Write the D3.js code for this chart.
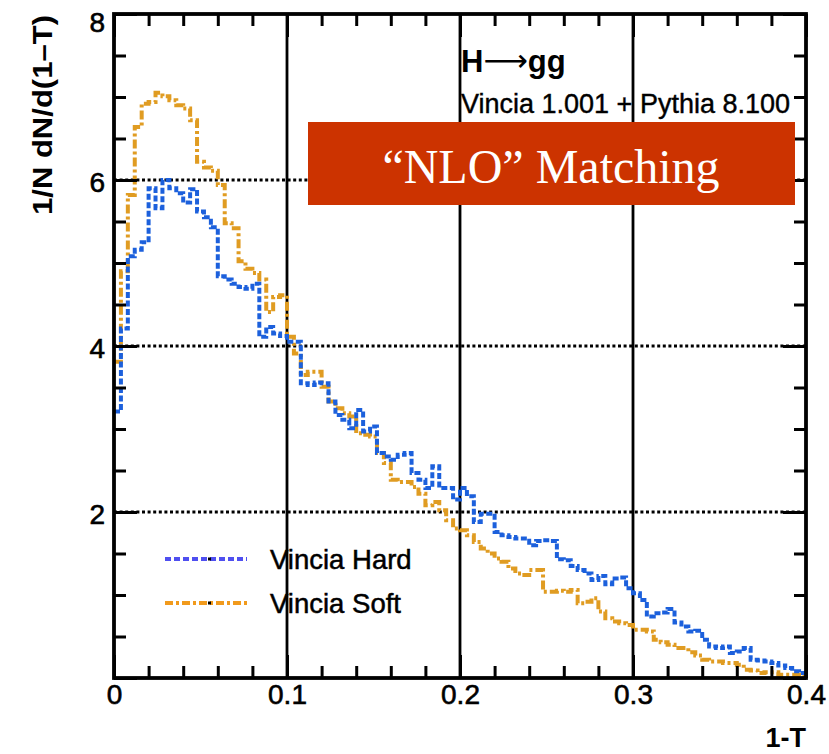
<!DOCTYPE html>
<html>
<head>
<meta charset="utf-8">
<script src="https://cdn.jsdelivr.net/npm/d3@7"></script>
<style>
  body { margin: 0; background: #fff; }
  svg { display: block; }
  text { font-family: "Liberation Sans", Arial, sans-serif; }
</style>
</head>
<body>
<div id="chart"></div>
<script>
// histogram: 100 bins of width 0.004 on 1-T in [0, 0.4]
const binWidth = 0.004;

const vinciaHard = [
  3.21, 4.21, 5.08, 5.16, 5.25, 5.90, 5.66, 6.00, 5.90, 5.84,
  5.73, 5.89, 5.62, 5.55, 5.43, 4.84, 4.80, 4.75, 4.71, 4.69,
  4.75, 4.11, 4.23, 4.15, 4.12, 4.05, 4.05, 3.55, 3.53, 3.56,
  3.55, 3.33, 3.17, 3.11, 3.01, 3.23, 2.97, 3.03, 2.71, 2.67,
  2.63, 2.69, 2.71, 2.47, 2.39, 2.29, 2.55, 2.29, 2.29, 2.15,
  2.29, 2.19, 1.88, 1.98, 1.98, 1.76, 1.72, 1.70, 1.68, 1.68,
  1.60, 1.65, 1.66, 1.65, 1.43, 1.42, 1.35, 1.30, 1.26, 1.18,
  1.23, 1.13, 1.20, 1.21, 1.08, 1.02, 0.94, 0.74, 0.78, 0.79,
  0.83, 0.67, 0.62, 0.56, 0.57, 0.46, 0.38, 0.36, 0.38, 0.30,
  0.32, 0.36, 0.22, 0.21, 0.20, 0.18, 0.15, 0.12, 0.08, 0.06
];

const vinciaSoft = [
  3.81, 4.90, 5.82, 6.64, 6.92, 6.94, 7.05, 7.01, 6.96, 6.90,
  6.86, 6.72, 6.22, 6.15, 6.11, 5.94, 5.48, 5.42, 5.02, 4.93,
  4.88, 4.80, 4.41, 4.59, 4.61, 4.11, 3.91, 3.65, 3.69, 3.69,
  3.51, 3.33, 3.25, 3.19, 3.15, 2.95, 2.93, 2.91, 2.71, 2.59,
  2.39, 2.36, 2.36, 2.30, 2.22, 2.08, 2.12, 2.02, 1.90, 1.80,
  1.78, 1.72, 1.64, 1.56, 1.50, 1.44, 1.40, 1.32, 1.26, 1.24,
  1.30, 1.30, 1.04, 1.04, 1.05, 1.04, 1.06, 0.90, 0.92, 0.96,
  0.80, 0.72, 0.68, 0.66, 0.64, 0.58, 0.58, 0.56, 0.46, 0.43,
  0.40, 0.36, 0.36, 0.31, 0.27, 0.22, 0.20, 0.20, 0.18, 0.18,
  0.16, 0.10, 0.09, 0.06, 0.07, 0.07, 0.04, 0.04, 0.04, 0.02
];

const xMajor = [0, 0.1, 0.2, 0.3, 0.4];
const xMinor = [0.02, 0.04, 0.06, 0.08, 0.12, 0.14, 0.16, 0.18, 0.22, 0.24, 0.26, 0.28, 0.32, 0.34, 0.36, 0.38];
const yMajor = [0, 2, 4, 6, 8];
const yMinor = [0.5, 1, 1.5, 2.5, 3, 3.5, 4.5, 5, 5.5, 6.5, 7, 7.5];
const xGrid = [0.1, 0.2, 0.3];
const yGrid = [2, 4, 6];

const seriesNames = ["Vincia Hard", "Vincia Soft"];

const width = 829, height = 754;
const svg = d3.select('#chart').append('svg')
    .attr('width', width)
    .attr('height', height);

const x = d3.scaleLinear().domain([0, 0.4]).range([114, 806]);
const y = d3.scaleLinear().domain([0, 8]).range([678, 14]);

// grid
svg.append('g').selectAll('line').data(yGrid).enter().append('line')
    .attr('x1', x(0)).attr('x2', x(0.4))
    .attr('y1', d => y(d)).attr('y2', d => y(d))
    .attr('stroke', '#000').attr('stroke-width', 3)
    .attr('stroke-dasharray', '3,2.6');

// legend text sits under the vertical grid lines
const legend = svg.append('g');
const legendRows = [
  {name: seriesNames[0], color: '#4f4ff0', dash: '6,3', y: 559},
  {name: seriesNames[1], color: '#f19a1c', dash: '8,3,3,3', y: 603}
];
legendRows.forEach(r => {
    legend.append('line')
        .attr('x1', 165).attr('x2', 247)
        .attr('y1', r.y).attr('y2', r.y)
        .attr('stroke', r.color).attr('stroke-width', 4)
        .attr('stroke-dasharray', r.dash);
    legend.append('rect')
        .attr('x', 208).attr('y', r.y - 1.5).attr('width', 3).attr('height', 3)
        .attr('fill', '#000');
    legend.append('text')
        .attr('x', 270).attr('y', r.y + 10)
        .attr('font-size', 27.5)
        .attr('stroke', '#000').attr('stroke-width', 0.5)
        .text(r.name);
});

svg.append('g').selectAll('line').data(xGrid).enter().append('line')
    .attr('x1', d => x(d)).attr('x2', d => x(d))
    .attr('y1', y(0)).attr('y2', y(8))
    .attr('stroke', '#000').attr('stroke-width', 2.8);

// histograms
function steps(vals){
    const pts = vals.map((v, i) => [i * binWidth, v]);
    pts.push([vals.length * binWidth, vals[vals.length - 1]]);
    return pts;
}
const line = d3.line()
    .x(d => x(d[0]))
    .y(d => y(d[1]))
    .curve(d3.curveStepAfter);

svg.append('path')
    .datum(steps(vinciaSoft))
    .attr('d', line)
    .attr('fill', 'none')
    .attr('stroke', '#e09c22')
    .attr('stroke-width', 4)
    .attr('stroke-dasharray', '9,3,3,3');

svg.append('path')
    .datum(steps(vinciaHard))
    .attr('d', line)
    .attr('fill', 'none')
    .attr('stroke', '#1c60dc')
    .attr('stroke-width', 4)
    .attr('stroke-dasharray', '6,2.5');

// axes (ticks pointing inward, mirrored on top/right)
function ticks(axis, vals, size, tr){
    const g = svg.append('g')
        .attr('transform', tr)
        .call(axis.tickValues(vals).tickSize(size).tickFormat(''));
    g.select('.domain').remove();
    g.selectAll('line').attr('stroke-width', 3);
    return g;
}
ticks(d3.axisBottom(x), xMinor, -12, `translate(0,${y(0)})`);
ticks(d3.axisBottom(x), xMajor, -23, `translate(0,${y(0)})`);
ticks(d3.axisTop(x), xMinor, -12, `translate(0,${y(8)})`);
ticks(d3.axisTop(x), xMajor, -23, `translate(0,${y(8)})`);
ticks(d3.axisLeft(y), yMinor, -12, `translate(${x(0)},0)`);
ticks(d3.axisLeft(y), yMajor, -23, `translate(${x(0)},0)`);
ticks(d3.axisRight(y), yMinor, -12, `translate(${x(0.4)},0)`);
ticks(d3.axisRight(y), yMajor, -23, `translate(${x(0.4)},0)`);

// tick labels
const xLab = svg.append('g')
    .attr('transform', `translate(0,${y(0)})`)
    .call(d3.axisBottom(x).tickValues(xMajor).tickSize(0).tickPadding(6)
        .tickFormat(d => d === 0 ? '0' : d3.format('.1f')(d)));
xLab.select('.domain').remove();
xLab.selectAll('text').attr('font-size', 28).attr('fill', '#000')
    .attr('stroke', '#000').attr('stroke-width', 0.6)
    .style('font-family', '"Liberation Sans", Arial, sans-serif');

const yLab = svg.append('g')
    .attr('transform', `translate(${x(0)},0)`)
    .call(d3.axisLeft(y).tickValues(yMajor.filter(d => d > 0)).tickSize(0).tickPadding(9)
        .tickFormat(d3.format('d')));
yLab.select('.domain').remove();
yLab.selectAll('text').attr('font-size', 28).attr('fill', '#000')
    .attr('stroke', '#000').attr('stroke-width', 0.6)
    .attr('dy', d => d === 8 ? '0.62em' : '0.42em')
    .style('font-family', '"Liberation Sans", Arial, sans-serif');

// frame
svg.append('rect')
    .attr('x', x(0)).attr('y', y(8))
    .attr('width', x(0.4) - x(0)).attr('height', y(0) - y(8))
    .attr('fill', 'none').attr('stroke', '#000').attr('stroke-width', 3.8);

// axis titles
svg.append('text')
    .attr('transform', 'translate(52,15) rotate(-90)')
    .attr('text-anchor', 'end')
    .attr('font-size', 28).attr('font-weight', 'bold')
    .attr('textLength', 200).attr('lengthAdjust', 'spacingAndGlyphs')
    .text('1/N dN/d(1–T)');

svg.append('text')
    .attr('x', 806).attr('y', 747)
    .attr('text-anchor', 'end')
    .attr('font-size', 27).attr('font-weight', 'bold')
    .text('1-T');

// labels in the plot
const title = svg.append('text')
    .attr('x', 461).attr('y', 72)
    .attr('font-size', 31).attr('font-weight', 'bold');
title.append('tspan').text('H');
title.append('tspan')
    .style('font-family', '"DejaVu Sans", sans-serif')
    .attr('font-weight', 'normal').attr('dy', -1)
    .text('⟶');
title.append('tspan').attr('dy', 1).text('gg');

svg.append('text')
    .attr('x', 461).attr('y', 113)
    .attr('font-size', 27)
    .attr('stroke', '#000').attr('stroke-width', 0.4)
    .text('Vincia 1.001 + Pythia 8.100');

svg.append('rect')
    .attr('x', 308).attr('y', 122)
    .attr('width', 487).attr('height', 83)
    .attr('fill', '#cc3300');

svg.append('text')
    .attr('x', 551).attr('y', 183)
    .attr('text-anchor', 'middle')
    .attr('fill', '#fff')
    .attr('font-size', 48)
    .style('font-family', '"Liberation Serif", "Times New Roman", serif')
    .text('“NLO” Matching');
</script>
</body>
</html>
